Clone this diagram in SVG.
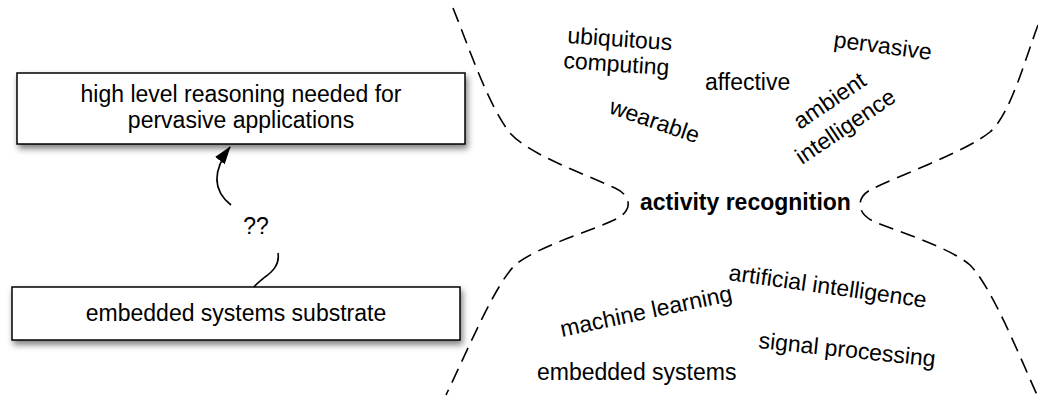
<svg xmlns="http://www.w3.org/2000/svg" width="1038" height="397" viewBox="0 0 1038 397">
<style>
text{font-family:"Liberation Sans",Arial,sans-serif;fill:#000;font-size:23px;}
.c{text-anchor:middle;}
.b{font-weight:bold;}
.box{fill:#fff;stroke:#000;stroke-width:1.5;filter:url(#sh);}
.dash{fill:none;stroke:#000;stroke-width:1.6;stroke-dasharray:15 8;}
.conn{fill:none;stroke:#000;stroke-width:1.6;}
</style>
<defs>
<filter id="sh" x="-10%" y="-20%" width="120%" height="160%">
<feDropShadow dx="2" dy="4" stdDeviation="3" flood-color="#000" flood-opacity="0.5"/>
</filter>
<marker id="ah" viewBox="0 0 18 12" refX="17" refY="6" markerWidth="18" markerHeight="12" markerUnits="userSpaceOnUse" orient="auto">
<path d="M0,0 L18,6 L0,12 z" fill="#000"/>
</marker>
</defs>
<g id="node-high">
<rect class="box" x="17" y="73" width="448" height="71"/>
<text class="c" x="241" y="102">high level reasoning needed for</text>
<text class="c" x="241" y="128">pervasive applications</text>
</g>
<g id="node-embedded">
<rect class="box" x="12" y="287" width="448" height="53"/>
<text class="c" x="236" y="321">embedded systems substrate</text>
</g>
<g id="connectors">
<path class="conn" d="M 231 205 C 212 190, 213 170, 230 147" marker-end="url(#ah)"/>
<path class="conn" d="M 278 253 C 280 265, 272 272, 265 277 C 260 281, 256 284, 254 287"/>
<text class="c" x="256" y="234">??</text>
<path class="dash" d="M 453 8 C 468 45, 488 105, 510 133 C 530 155, 580 172, 615 188 C 632 196, 632 210, 618 218 C 590 232, 540 245, 515 265 C 495 285, 470 345, 446 395"/>
<path class="dash" d="M 1038 25 C 1025 60, 1010 115, 990 132 C 965 152, 900 175, 870 190 C 856 198, 856 214, 875 222 C 905 234, 950 248, 970 265 C 990 285, 1015 345, 1037 395"/>
</g>
<g id="node-activity">
<text class="b" x="640" y="210">activity recognition</text>
</g>
<g id="labels">
<text transform="translate(567,43) rotate(4)">ubiquitous</text>
<text transform="translate(563,68) rotate(4)">computing</text>
<text x="705" y="90">affective</text>
<text transform="translate(833,47) rotate(7.5)">pervasive</text>
<text transform="translate(608,113) rotate(19)">wearable</text>
<text transform="translate(800,130) rotate(-34)">ambient</text>
<text transform="translate(802,165) rotate(-34)">intelligence</text>
<text transform="translate(728,280) rotate(8)">artificial intelligence</text>
<text transform="translate(562,337) rotate(-12)">machine learning</text>
<text transform="translate(758,348) rotate(6)">signal processing</text>
<text x="537" y="380">embedded systems</text>
</g>
</svg>
